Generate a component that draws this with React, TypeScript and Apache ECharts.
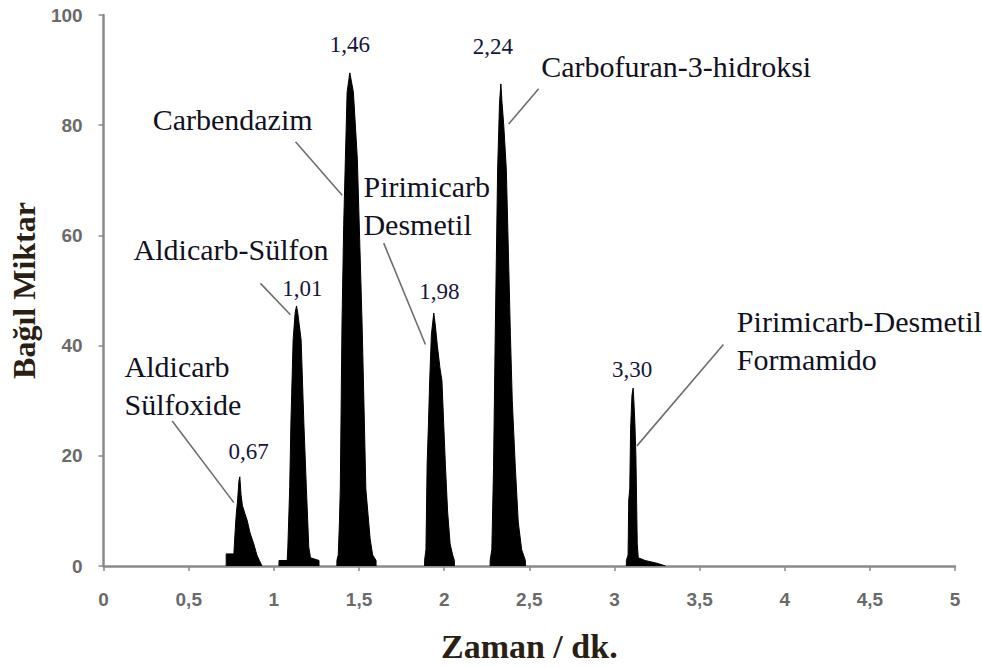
import React, { useEffect, useRef } from "react";
import * as echarts from "echarts";

// Retention time (dk.) vs relative amount for each compound peak
const aldicarbSulfoxide: number[][] = [
  [0.72, 0], [0.72, 2.2], [0.765, 2.2], [0.772, 6], [0.778, 9], [0.787, 12], [0.795, 15.5], [0.8, 16.2],
  [0.807, 13], [0.815, 11], [0.83, 9.5], [0.843, 8.3], [0.86, 6], [0.882, 4], [0.9, 2], [0.915, 1], [0.93, 0],
];
const aldicarbSulfon: number[][] = [
  [1.03, 0], [1.03, 1], [1.078, 1], [1.082, 3.4], [1.093, 14.3], [1.1, 26], [1.113, 41], [1.125, 46], [1.133, 47.2],
  [1.14, 46], [1.16, 41], [1.176, 26], [1.191, 14], [1.205, 3.4], [1.215, 1.5], [1.265, 1], [1.265, 0],
];
const carbendazim: number[][] = [
  [1.37, 0], [1.37, 1], [1.378, 2], [1.385, 8], [1.39, 14], [1.4, 44], [1.41, 62], [1.42, 74], [1.43, 86], [1.446, 89.5],
  [1.455, 88], [1.467, 86], [1.49, 74], [1.505, 58], [1.518, 44], [1.53, 28], [1.54, 14], [1.565, 5], [1.58, 2], [1.6, 1], [1.6, 0],
];
const pirimicarbDesmetil: number[][] = [
  [1.885, 0], [1.885, 1], [1.893, 3], [1.9, 18.5], [1.908, 26], [1.915, 33.6], [1.925, 42], [1.939, 45.9],
  [1.947, 44], [1.96, 40], [1.975, 36], [1.987, 33.6], [1.997, 26], [2.007, 18.5], [2.02, 10], [2.035, 4], [2.05, 2], [2.06, 1], [2.06, 0],
];
const carbofuran3Hidroksi: number[][] = [
  [2.27, 0], [2.27, 1], [2.28, 3], [2.29, 17.9], [2.3, 42], [2.314, 72], [2.325, 84], [2.333, 87.5],
  [2.34, 84], [2.35, 80], [2.365, 72], [2.378, 56], [2.389, 42], [2.4, 30], [2.418, 17.9], [2.435, 8], [2.455, 3], [2.477, 1], [2.477, 0],
];
const pirimicarbDesmetilFormamido: number[][] = [
  [3.07, 0], [3.07, 1], [3.08, 2], [3.084, 12], [3.09, 14], [3.095, 25], [3.103, 31], [3.11, 32.3],
  [3.114, 30], [3.12, 26], [3.126, 20], [3.13, 12], [3.134, 4], [3.14, 1.5], [3.18, 1], [3.25, 0.5], [3.3, 0],
];

const peaks = [
  aldicarbSulfoxide, aldicarbSulfon, carbendazim, pirimicarbDesmetil, carbofuran3Hidroksi, pirimicarbDesmetilFormamido,
];

// Annotations (data coordinates)
const compoundNames = [
  "Aldicarb\nSülfoxide", "Aldicarb-Sülfon", "Carbendazim", "Pirimicarb\nDesmetil", "Carbofuran-3-hidroksi", "Pirimicarb-Desmetil\nFormamido",
];
const nameAnchors: number[][] = [[0.123, 32.8], [0.176, 57.5], [0.288, 81.0], [1.526, 65.4], [2.57, 90.7], [3.719, 40.9]];
const leaderLines: number[][][] = [
  [[0.403, 26.3], [0.765, 11.5]],
  [[0.921, 51.3], [1.097, 45.6]],
  [[1.127, 77.0], [1.401, 67.3]],
  [[1.645, 58.6], [1.89, 40.2]],
  [[2.555, 86.6], [2.379, 80.2]],
  [[3.64, 40.2], [3.132, 21.8]],
];
const retentionLabels = ["0,67", "1,01", "1,46", "1,98", "2,24", "3,30"];
const retentionAnchors: number[][] = [[0.851, 20.8], [1.168, 50.4], [1.447, 94.7], [1.972, 49.8], [2.286, 94.2], [3.104, 35.7]];

const xTicks = { min: 0, max: 5, interval: 0.5 };
const yTicks = { min: 0, max: 100, interval: 20 };

export default function App() {
  const ref = useRef<HTMLDivElement>(null);
  useEffect(() => {
    if (!ref.current) return;
    const chart = echarts.init(ref.current, null, { renderer: "svg" });
    const axisColor = "#8a8a8a";
    const tickLabel = {
      fontFamily: "Liberation Sans",
      fontSize: 19,
      fontWeight: "bold" as const,
      color: "#6a6a6a",
    };
    chart.setOption({
      animation: false,
      backgroundColor: "#ffffff",
      grid: { left: 103, right: 27, top: 15, bottom: 99 },
      xAxis: {
        type: "value",
        min: xTicks.min,
        max: xTicks.max,
        interval: xTicks.interval,
        name: "Zaman / dk.",
        nameLocation: "middle",
        nameGap: 63,
        nameTextStyle: { fontFamily: "Liberation Serif", fontWeight: "bold", fontSize: 34, color: "#2a1f14" },
        axisLine: { show: true, lineStyle: { color: axisColor, width: 2.5 } },
        axisTick: { show: true, length: 5, lineStyle: { color: axisColor, width: 1.5 } },
        splitLine: { show: false },
        axisLabel: { ...tickLabel, margin: 24, formatter: (v: number) => String(v).replace(".", ",") },
      },
      yAxis: {
        type: "value",
        min: yTicks.min,
        max: yTicks.max,
        interval: yTicks.interval,
        name: "Bağıl Miktar",
        nameLocation: "middle",
        nameGap: 56,
        nameTextStyle: { fontFamily: "Liberation Serif", fontWeight: "bold", fontSize: 32, color: "#2a1f14" },
        axisLine: { show: true, lineStyle: { color: axisColor, width: 2.5 } },
        axisTick: { show: true, length: 5, lineStyle: { color: axisColor, width: 1.5 } },
        splitLine: { show: false },
        axisLabel: { ...tickLabel, margin: 21 },
      },
      series: peaks.map((p) => ({
        type: "line",
        data: p,
        symbol: "none",
        smooth: false,
        lineStyle: { color: "#000", width: 1 },
        areaStyle: { color: "#000", opacity: 1 },
      })),
    });

    const px = (p: number[]) => chart.convertToPixel({ gridIndex: 0 }, p) as number[];
    const graphics: any[] = [];
    leaderLines.forEach((l) => {
      const a = px(l[0]);
      const b = px(l[1]);
      graphics.push({
        type: "line",
        shape: { x1: a[0], y1: a[1], x2: b[0], y2: b[1] },
        style: { stroke: "#6e6e6e", lineWidth: 1.6 },
        silent: true,
      });
    });
    const lineGap = 38;
    compoundNames.forEach((t, i) => {
      const p = px(nameAnchors[i]);
      const lines = t.split("\n");
      lines.forEach((ln, j) => {
        graphics.push({
          type: "text",
          x: p[0],
          y: p[1] + (j - (lines.length - 1) / 2) * lineGap,
          style: {
            text: ln,
            fontFamily: "Liberation Serif",
            fontSize: 30,
            fill: "#111122",
            align: "left",
            verticalAlign: "middle",
          },
          silent: true,
        });
      });
    });
    retentionLabels.forEach((t, i) => {
      const p = px(retentionAnchors[i]);
      graphics.push({
        type: "text",
        x: p[0],
        y: p[1],
        style: {
          text: t,
          fontFamily: "Liberation Serif",
          fontSize: 23,
          fill: "#15153a",
          align: "center",
          verticalAlign: "middle",
        },
        silent: true,
      });
    });
    chart.setOption({ graphic: graphics });

    return () => chart.dispose();
  }, []);
  return <div ref={ref} style={{ position: "fixed", left: 0, top: 0, width: 982, height: 668 }} />;
}
